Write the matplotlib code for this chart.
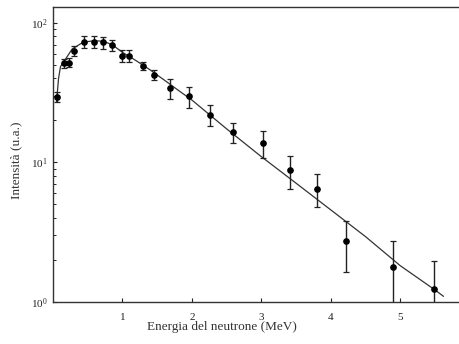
import matplotlib
matplotlib.use("Agg")
import matplotlib.pyplot as plt
from matplotlib.ticker import LogLocator, NullFormatter, FixedLocator

# Measured data points
energy = [0.06, 0.155, 0.23, 0.30, 0.45, 0.59, 0.72, 0.85, 1.00, 1.10, 1.30, 1.46,
          1.69, 1.96, 2.26, 2.59, 3.03, 3.41, 3.80, 4.22, 4.89, 5.48]
intensity = [29.6, 51.4, 52.0, 63.0, 73.5, 73.0, 72.5, 69.5, 58.3, 58.0, 49.2, 42.4,
             34.1, 29.7, 21.9, 16.4, 13.7, 8.8, 6.5, 2.73, 1.78, 1.24]
error = [2.4, 4.0, 4.0, 5.0, 7.0, 7.0, 7.0, 6.5, 5.5, 5.5, 3.5, 3.5,
         5.8, 5.0, 3.8, 2.7, 3.0, 2.3, 1.7, 1.1, 0.95, 0.72]

# Fit curve
curve_e = [0.05, 0.08, 0.108, 0.18, 0.276, 0.4, 0.5, 0.6, 0.7, 0.8, 0.9, 1.0, 1.2,
           1.4, 1.6, 1.8, 2.0, 2.5, 3.0, 3.5, 4.0, 4.5, 5.0, 5.5, 5.62]
curve_i = [27.0, 40.0, 48.6, 55.0, 65.0, 71.0, 73.5, 74.5, 74.0, 71.5, 67.0, 61.5, 53.5,
           46.0, 39.0, 33.0, 28.0, 17.4, 11.0, 7.1, 4.57, 2.94, 1.82, 1.22, 1.10]

xticks = [1, 2, 3, 4, 5]

plt.rcParams['font.family'] = ['Liberation Serif', 'DejaVu Serif']
plt.rcParams['mathtext.fontset'] = 'stix'

fig = plt.figure(figsize=(4.6, 3.44), dpi=100)
ax = fig.add_axes([53/460, 1-302/344, 1-53/460, (302-7)/344])

ax.plot(curve_e, curve_i, color='#333333', lw=0.9, zorder=2)
ax.errorbar(energy, intensity, yerr=error, fmt='o', color='black', ms=3.8,
            ecolor='#222222', elinewidth=1.0, capsize=2.2, capthick=0.9, zorder=3)

ax.set_yscale('log')
ax.set_xlim(0, 5.86)
ax.set_ylim(1, 130)
ax.xaxis.set_major_locator(FixedLocator(xticks))
ax.set_xticklabels([str(t) for t in xticks])
ax.yaxis.set_major_locator(LogLocator(base=10, numticks=5))
ax.yaxis.set_minor_locator(LogLocator(base=10, subs=range(2, 10), numticks=10))
ax.yaxis.set_minor_formatter(NullFormatter())

ax.tick_params(axis='both', which='major', direction='in', length=3, width=0.8,
               labelsize=8, colors='#222222')
ax.tick_params(axis='y', which='minor', direction='in', length=2, width=0.6)
ax.tick_params(axis='x', pad=8)
ax.tick_params(axis='y', pad=4)

for s in ['left', 'bottom', 'top']:
    ax.spines[s].set_linewidth(1.0)
    ax.spines[s].set_color('#333333')
ax.spines['right'].set_visible(False)

ax.set_xlabel('Energia del neutrone (MeV)', fontsize=9.5, color='#333333')
ax.xaxis.set_label_coords(0.415, -0.065)
ax.set_ylabel('Intensità (u.a.)', fontsize=9.5, color='#333333')
ax.yaxis.set_label_coords(-0.075, 0.48)

fig.savefig('out.png', dpi=100)
